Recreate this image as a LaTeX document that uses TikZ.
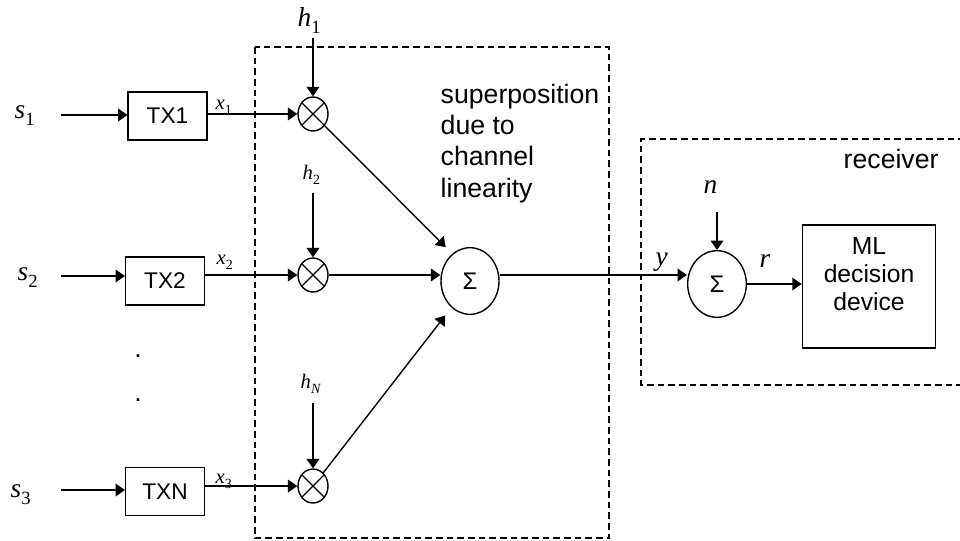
\documentclass[tikz,border=0pt]{standalone}
\usepackage{fontspec}
\setmainfont{Liberation Sans}
\newfontfamily\tms{Liberation Serif}
\usetikzlibrary{shapes.geometric,arrows.meta}
\newcommand\lbl[4]{{\tms\fontsize{#1}{#1}\selectfont\textit{#3}\raisebox{-0.28em}{\fontsize{#2}{#2}\selectfont #4}}}
\begin{document}
\begin{tikzpicture}[x=0.75pt,y=-0.75pt,
  line width=1.05pt,
  arr/.style={-{Triangle[length=7pt,width=9.5pt]}},
  txbox/.style={draw,minimum width=59pt,minimum height=36pt,inner sep=0pt,font=\fontsize{17pt}{17pt}\selectfont},
  mult/.style={draw,ellipse,minimum width=22.5pt,minimum height=25.5pt,inner sep=0pt},
  sumnode/.style={draw,ellipse,minimum width=43.5pt,minimum height=50pt,inner sep=0pt,font=\fontsize{18pt}{18pt}\selectfont},
  region/.style={line width=1pt,dash pattern=on 5pt off 3pt},
  lab/.style={anchor=base west,inner sep=0pt},
]
\useasboundingbox (0,0) rectangle (960,540);

% regions
\draw[region] (255,47) rectangle (609,538);
\draw[region] (965,139) -- (641,139) -- (641,385) -- (965,385);

% source labels
\node[lab] (s1) at (14,118) {\lbl{20.5pt}{14pt}{s}{1}};
\node[lab] (s2) at (17,280) {\lbl{20.5pt}{14pt}{s}{2}};
\node[lab] (s3) at (10,497) {\lbl{20.5pt}{14pt}{s}{3}};

% transmitters
\node[txbox] (tx1) at (167.5,116) {TX1};
\node[txbox] (tx2) at (165,281) {TX2};
\node[txbox] (txn) at (165,491.5) {TXN};

\node[inner sep=0pt,font=\fontsize{20pt}{20pt}\selectfont] (d1) at (138,356) {.};
\node[inner sep=0pt,font=\fontsize{20pt}{20pt}\selectfont] (d2) at (138,400) {.};

\coordinate (i1) at (61,115);
\coordinate (i2) at (61,276);
\coordinate (i3) at (61,490);
\draw[arr] (i1) -- (i1 -| tx1.west);
\draw[arr] (i2) -- (i2 -| tx2.west);
\draw[arr] (i3) -- (i3 -| txn.west);

% multipliers
\node[mult] (m1) at (313,114) {};
\node[mult] (m2) at (313,275) {};
\node[mult] (m3) at (313,486) {};
\foreach \m in {m1,m2,m3}{
  \draw[line width=0.9pt] (\m.45) -- (\m.225) (\m.135) -- (\m.315);
}

\draw[arr] (tx1.east |- m1) -- (m1.west);
\draw[arr] (tx2.east |- m2) -- (m2.west);
\draw[arr] (txn.east |- m3) -- (m3.west);

\node[lab] (x1) at (215,109) {\lbl{15.5pt}{10.5pt}{x}{1}};
\node[lab] (x2) at (216,264) {\lbl{15.5pt}{10.5pt}{x}{2}};
\node[lab] (x3) at (215,483) {\lbl{15.5pt}{10.5pt}{x}{3}};

% channel gains
\node[lab] (h1) at (297,26) {\lbl{20.5pt}{14pt}{h}{1}};
\node[lab] (h2) at (302,179) {\lbl{15.5pt}{10.5pt}{h}{2}};
\node[lab] (hN) at (300,388) {\lbl{15.5pt}{10.5pt}{h}{\textit{N}}};
\coordinate (a1) at (313,38);
\coordinate (a2) at (313,193);
\coordinate (a3) at (313,403);
\draw[arr] (a1) -- (m1.north);
\draw[arr] (a2) -- (m2.north);
\draw[arr] (a3) -- (m3.north);

% superposition
\node[sumnode] (bigS) at (470,281) {Σ};
\draw[arr, shorten >=7pt] (m1) -- (bigS.123);
\draw[arr] (m2) -- (m2 -| bigS.west);
\draw[arr, shorten >=7.5pt] (m3) -- (bigS.235);

\node[anchor=base west,align=left,inner sep=0pt,font=\fontsize{20pt}{23.5pt}\selectfont] (sup) at (440,197) {superposition\\due to\\channel\\linearity};

% receiver
\node[lab,font=\fontsize{20pt}{20pt}\selectfont] (rec) at (843,168) {receiver};
\node[sumnode,minimum width=44pt] (smallS) at (717,284) {Σ};
\node[lab] (n) at (703,193) {\lbl{20.5pt}{14pt}{n}{}};
\coordinate (na) at (717,212);
\draw[arr] (na) -- (smallS.north);
\draw[arr] (bigS.east |- m2) -- (smallS.west |- m2);
\node[lab] (y) at (655,265) {\lbl{20.5pt}{14pt}{y}{}};
\node[lab] (r) at (759,267) {\lbl{20.5pt}{14pt}{r}{}};

\node[draw,minimum width=100pt,minimum height=92pt,inner sep=0pt] (ml) at (869,286.5) {};
\node[align=center,inner sep=0pt,anchor=base,font=\fontsize{18.5pt}{20.8pt}\selectfont] (mltext) at (869,310) {ML\\decision\\device};
\draw[arr] (smallS.east) -- (smallS.east -| ml.west);
\end{tikzpicture}
\end{document}
